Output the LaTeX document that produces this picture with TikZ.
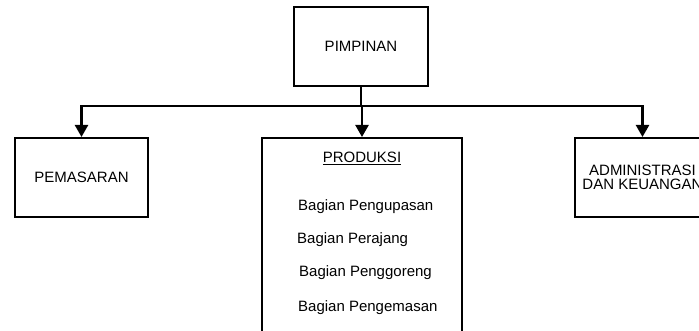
\documentclass[tikz,border=0pt]{standalone}
\usepackage{fontspec}
\setmainfont{Liberation Sans}
\usetikzlibrary{arrows.meta}
\begin{document}
\begin{tikzpicture}[x=1pt,y=-1pt,
  box/.style={draw=black, line width=2pt, rectangle, inner sep=0pt, align=center,
    font=\fontsize{15}{13.7}\selectfont},
  conn/.style={draw=black, line width=2.3pt},
  arr/.style={conn, -{Triangle[width=13pt,length=12pt]}},
  item/.style={anchor=west, inner sep=0pt, font=\fontsize{15}{18}\selectfont}]
\clip (0,0) rectangle (699,331);
\node[box, minimum width=134pt, minimum height=79pt] (pim) at (361,46.5) {PIMPINAN};
\node[box, minimum width=133pt, minimum height=79pt] (pem) at (81.5,177.5) {PEMASARAN};
\node[box, minimum width=200pt, minimum height=202pt] (prod) at (362,239) {};
\node[box, minimum width=135pt, minimum height=79pt] (adm) at (642.5,177.5) {ADMINISTRASI\\DAN KEUANGAN};
\node[inner sep=0pt, font=\fontsize{15}{18}\selectfont] (prodt) at (362,158) {\underline{PRODUKSI}};
\node[item] (b1) at (298,207) {Bagian Pengupasan};
\node[item] (b2) at (297,240) {Bagian Perajang};
\node[item] (b3) at (299,273) {Bagian Penggoreng};
\node[item] (b4) at (298,308) {Bagian Pengemasan};
\coordinate (j) at (361,106);
\draw[conn] (pim.south) -- (j);
\draw[arr] (j) -| (pem.north);
\draw[arr] (j) -| (adm.north);
\draw[arr] (prod.north |- j) -- (prod.north);
\end{tikzpicture}
\end{document}
